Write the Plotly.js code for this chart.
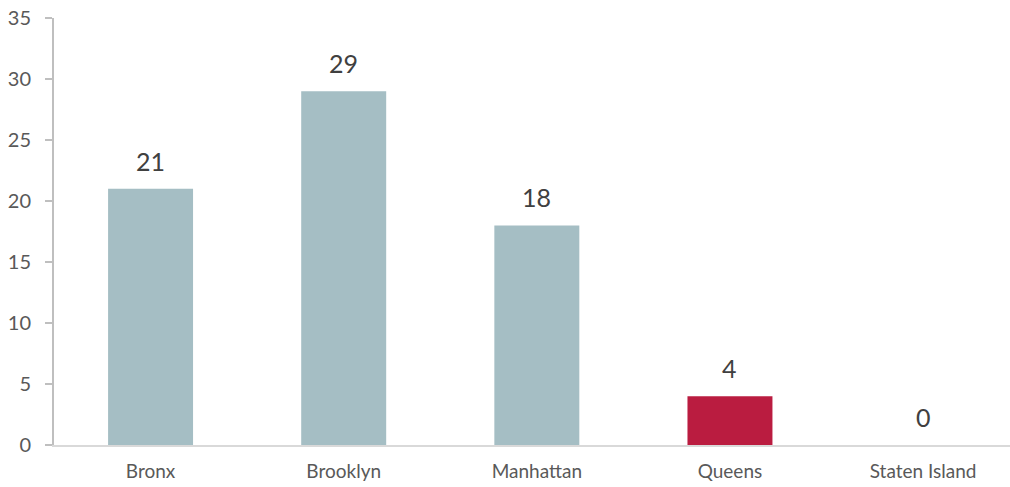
<!DOCTYPE html>
<html><head><meta charset="utf-8">
<script src="https://cdn.plot.ly/plotly-3.0.1.min.js"></script>
<style>html,body{margin:0;padding:0;background:#fff;}#chart{width:1010px;height:487px;}</style>
</head><body><div id="chart"></div>
<script>
const categories = ["Bronx", "Brooklyn", "Manhattan", "Queens", "Staten Island"];
const values = [21, 29, 18, 4, 0];
const barColors = ["#A5BEC4", "#A5BEC4", "#A5BEC4", "#BA1C40", "#A5BEC4"];
const yTicks = [0, 5, 10, 15, 20, 25, 30, 35];

const trace = {
  type: "bar", x: categories, y: values,
  marker: {color: barColors, line: {width: 0}},
  hoverinfo: "none"
};
const annotations = categories.map((c, i) => ({
  x: c, y: values[i], xref: "x", yref: "y", text: String(values[i]),
  showarrow: false, yanchor: "bottom", yshift: 11,
  font: {family: "Lato, 'Open Sans', sans-serif", size: 25, color: "#404040"}
}));
const layout = {
  width: 1010, height: 487,
  margin: {l: 54, r: 0, t: 18, b: 42},
  paper_bgcolor: "#fff", plot_bgcolor: "#fff",
  bargap: 0.56, showlegend: false,
  font: {family: "Lato, 'Open Sans', sans-serif", color: "#595959"},
  xaxis: {type: "category", range: [-0.5, 4.45], showgrid: false, zeroline: false,
    showline: true, linecolor: "#D9D9D9", linewidth: 2, ticks: "", ticklabelstandoff: 8,
    tickfont: {size: 19, color: "#595959"}, fixedrange: true},
  yaxis: {range: [0, 35], tickvals: yTicks, showgrid: false, zeroline: false,
    showline: true, linecolor: "#BFBFBF", linewidth: 2, ticks: "outside", ticklen: 7,
    tickcolor: "#BFBFBF", tickwidth: 2, ticklabelstandoff: 10,
    tickfont: {size: 20, color: "#595959"}, fixedrange: true},
  annotations: annotations
};
Plotly.newPlot("chart", [trace], layout, {staticPlot: true, displayModeBar: false});
</script></body></html>
